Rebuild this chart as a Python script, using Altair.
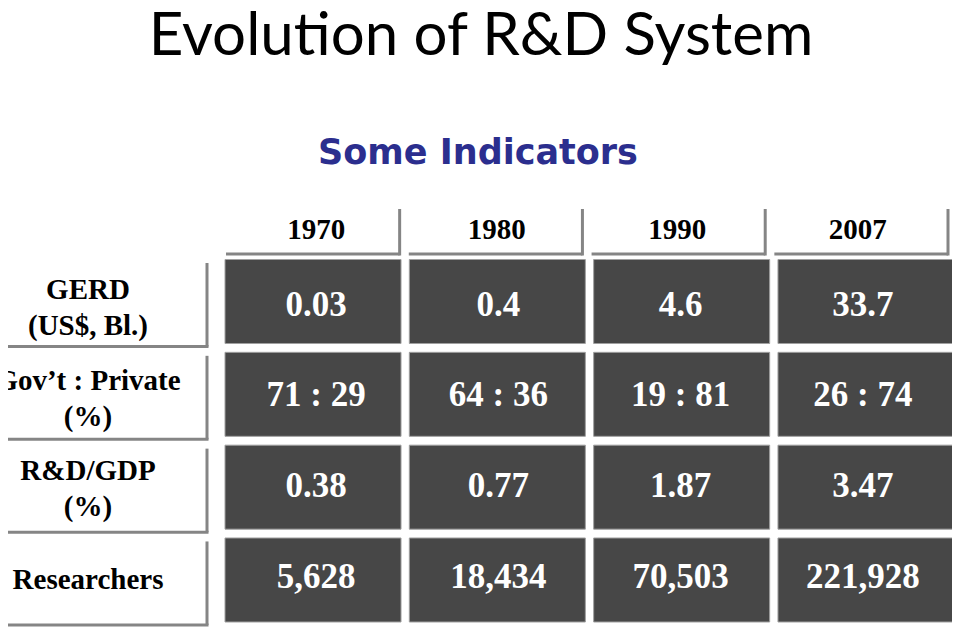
import altair as alt
import pandas as pd

# ---- data ----
years = ["1970", "1980", "1990", "2007"]
indicators = ["GERD", "Gov’t : Private", "R&D/GDP", "Researchers"]
row_labels = ["GERD\n(US$, Bl.)", "Gov’t : Private\n(%)", "R&D/GDP\n(%)", "Researchers"]
gerd = ["0.03", "0.4", "4.6", "33.7"]
gov_private = ["71 : 29", "64 : 36", "19 : 81", "26 : 74"]
rd_gdp = ["0.38", "0.77", "1.87", "3.47"]
researchers = ["5,628", "18,434", "70,503", "221,928"]
title_text = "Evolution of R&D System"
subtitle_text = "Some Indicators"

series = [gerd, gov_private, rd_gdp, researchers]
cells = pd.DataFrame(
    [{"indicator": ind, "year": y, "value": vals[i]}
     for ind, vals in zip(indicators, series) for i, y in enumerate(years)]
)
heads = pd.DataFrame({"year": years})
labels = pd.DataFrame({"indicator": indicators, "label": row_labels})
one = pd.DataFrame({"t": [title_text], "s": [subtitle_text]})

SERIF = "Liberation Serif"
LINE = "#858585"

x_cell = alt.Scale(domain=years, range=[217, 946], paddingInner=0.045, paddingOuter=0)
y_cell = alt.Scale(domain=indicators, range=[251.5, 614], paddingInner=0.095, paddingOuter=0)
x_head = alt.Scale(domain=years, range=[218, 940], paddingInner=0.05, paddingOuter=0)
y_lab = alt.Scale(domain=indicators, range=[255, 617], paddingInner=0.1, paddingOuter=0)

base_c = alt.Chart(cells)
rects = base_c.mark_rect(color="#474747", stroke="#a0a0a0", strokeWidth=1).encode(
    x=alt.X("year:N", scale=x_cell, axis=None),
    y=alt.Y("indicator:N", scale=y_cell, axis=None),
)
vals = base_c.mark_text(font=SERIF, fontWeight="bold", fontSize=35, color="#ffffff",
                        baseline="middle").encode(
    x=alt.X("year:N", scale=x_cell, axis=None),
    y=alt.Y("indicator:N", scale=y_cell, axis=None),
    text="value:N",
)

base_h = alt.Chart(heads)
head_txt = base_h.mark_text(font=SERIF, fontWeight="bold", fontSize=29, color="#000000",
                            baseline="middle").encode(
    x=alt.X("year:N", scale=x_head, axis=None),
    y=alt.value(222),
    text="year:N",
)
head_under = base_h.mark_rect(color=LINE).encode(
    x=alt.X("year:N", scale=x_head, axis=None),
    y=alt.value(244.5),
    y2=alt.value(247.5),
)
head_vert = base_h.mark_rule(color=LINE, strokeWidth=3).encode(
    x=alt.X("year:N", scale=x_head, axis=None, bandPosition=1),
    y=alt.value(201),
    y2=alt.value(247.5),
)

base_l = alt.Chart(labels)
lab_two = base_l.transform_filter("indexof(datum.label, '\\n') >= 0").mark_text(
    font=SERIF, fontWeight="bold", fontSize=29, color="#000000",
    baseline="middle", lineBreak="\n", lineHeight=36, dy=-18).encode(
    x=alt.value(80),
    y=alt.Y("indicator:N", scale=y_lab, axis=None),
    text="label:N",
)
lab_one = base_l.transform_filter("indexof(datum.label, '\\n') < 0").mark_text(
    font=SERIF, fontWeight="bold", fontSize=29, color="#000000",
    baseline="middle").encode(
    x=alt.value(80),
    y=alt.Y("indicator:N", scale=y_lab, axis=None),
    text="label:N",
)
lab_under = base_l.mark_rule(color=LINE, strokeWidth=3).encode(
    x=alt.value(0),
    x2=alt.value(200.5),
    y=alt.Y("indicator:N", scale=y_lab, axis=None, bandPosition=1),
)
lab_vert = base_l.mark_rect(color=LINE).encode(
    x=alt.value(197.5),
    x2=alt.value(200.5),
    y=alt.Y("indicator:N", scale=y_lab, axis=None),
)

base_o = alt.Chart(one)
title = base_o.mark_text(font="Lato", fontSize=60, color="#000000", baseline="alphabetic",
                         align="center").encode(
    x=alt.value(473), y=alt.value(47), text="t:N")
subtitle = base_o.mark_text(font="DejaVu Sans", fontWeight="bold", fontSize=35,
                            color="#2B2E8E", baseline="alphabetic", align="center").encode(
    x=alt.value(470), y=alt.value(156), text="s:N")

chart = alt.layer(
    rects, vals, head_txt, head_under, head_vert, lab_two, lab_one, lab_under, lab_vert,
    title, subtitle
).resolve_scale(x="independent", y="independent").properties(
    width=944, height=622, autosize=alt.AutoSizeParams(type="none"), padding=0
).configure_view(stroke=None)

chart.save("out.html", embed_options={"renderer": "svg", "actions": False})
